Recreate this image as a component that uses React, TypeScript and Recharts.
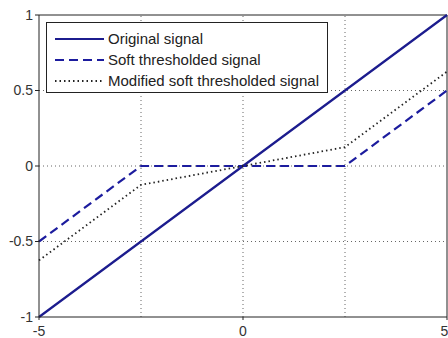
import { LineChart, Line, XAxis, YAxis, ReferenceLine } from 'recharts'

const xValues = [-5, -2.5, 0, 2.5, 5]
const original = [-1, -0.5, 0, 0.5, 1]
const soft = [-0.5, 0, 0, 0, 0.5]
const modified = [-0.625, -0.125, 0, 0.125, 0.625]
const xTicks = [-5, 0, 5]
const yTicks = [-1, -0.5, 0, 0.5, 1]
const gridX = [-2.5, 0, 2.5]
const gridY = [-0.5, 0, 0.5]

const series = [
  { key: 'original', name: 'Original signal', color: '#1c1c8e', dash: undefined, width: 2.2 },
  { key: 'soft', name: 'Soft thresholded signal', color: '#1c1c9e', dash: '9 5', width: 2.2 },
  { key: 'modified', name: 'Modified soft thresholded signal', color: '#222', dash: '1.5 3', width: 1.8 },
]

const data = xValues.map((x, i) => ({
  x,
  original: original[i],
  soft: soft[i],
  modified: modified[i],
}))

const font = 'Liberation Sans, Arial, sans-serif'

function LegendBox() {
  return (
    <div style={{ position: 'absolute', left: 46, top: 22, border: '1px solid #222', background: '#fff', width: 282, height: 71, boxSizing: 'border-box', paddingTop: 5, fontFamily: font, fontSize: 15, color: '#222' }}>
      {series.map((s) => (
        <div key={s.key} style={{ display: 'flex', alignItems: 'center', height: 21 }}>
          <svg width={54} height={10} style={{ marginLeft: 5 }}>
            <line x1={3} y1={5} x2={52} y2={5} stroke={s.color} strokeWidth={s.width} strokeDasharray={s.dash} />
          </svg>
          <span style={{ marginLeft: 2 }}>{s.name}</span>
        </div>
      ))}
    </div>
  )
}

export default function App() {
  return (
    <div style={{ position: 'absolute', left: 0, top: 0, width: 448, height: 338, background: '#fff' }}>
      <LineChart width={448} height={338} data={data} margin={{ top: 15, right: 1, bottom: 0, left: 0 }}>
        <XAxis
          dataKey="x"
          type="number"
          domain={[-5, 5]}
          ticks={xTicks}
          height={21}
          tickSize={3}
          tickMargin={6}
          stroke="#222"
          tick={{ fontSize: 14, fill: '#333', fontFamily: font }}
        />
        <YAxis
          type="number"
          domain={[-1, 1]}
          ticks={yTicks}
          width={39}
          tickSize={4}
          tickMargin={2}
          stroke="#222"
          tick={{ fontSize: 14, fill: '#333', fontFamily: font }}
        />
        {gridX.map((g) => (
          <ReferenceLine key={'gx' + g} x={g} stroke="#666" strokeDasharray="1 3" />
        ))}
        {gridY.map((g) => (
          <ReferenceLine key={'gy' + g} y={g} stroke="#666" strokeDasharray="1 3" />
        ))}
        <ReferenceLine x={5} stroke="#222" />
        <ReferenceLine y={1} stroke="#222" />
        {series.map((s) => (
          <Line
            key={s.key}
            dataKey={s.key}
            name={s.name}
            type="linear"
            stroke={s.color}
            strokeWidth={s.width}
            strokeDasharray={s.dash}
            dot={false}
            isAnimationActive={false}
          />
        ))}
      </LineChart>
      <LegendBox />
    </div>
  )
}
